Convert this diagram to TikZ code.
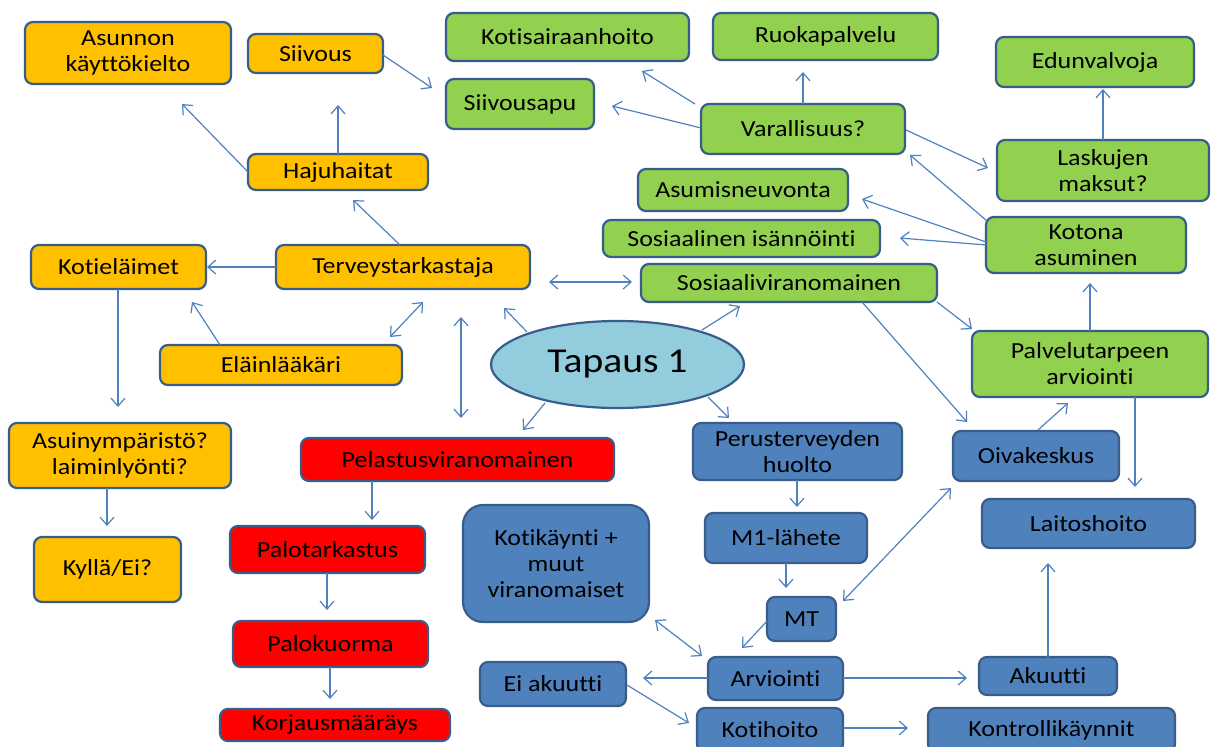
\documentclass[tikz,border=0pt]{standalone}
\usepackage{fontspec}
\setmainfont{Carlito}[FakeStretch=1.13,Ligatures=NoCommon]
\usetikzlibrary{arrows.meta,calc,shapes.geometric}
\definecolor{bord}{HTML}{385D8A}
\definecolor{arr}{HTML}{4F81BD}
\definecolor{cOr}{HTML}{FFC000}
\definecolor{cGr}{HTML}{92D050}
\definecolor{cRd}{HTML}{FF0000}
\definecolor{cBl}{HTML}{4F81BD}
\definecolor{cEl}{HTML}{93CDDD}
\newcommand\mybox[7]{\node[#1, minimum width={(#5)-(#3)}, minimum height={(#6)-(#4)}] (#2) at ({((#3)+(#5))/2},{((#4)+(#6))/2}) {#7};}
\tikzset{
 box/.style={draw=bord, line width=2.2pt, rounded corners=8pt, inner sep=0pt, outer sep=0pt, align=center, font=\fontsize{23}{26}\selectfont, text=black},
 ob/.style={box, fill=cOr}, gb/.style={box, fill=cGr}, rb/.style={box, fill=cRd}, bb/.style={box, fill=cBl},
 con/.style={draw=arr, line width=1.2pt, -{Straight Barb[length=8pt,width=14pt]}},
 dcon/.style={draw=arr, line width=1.2pt, {Straight Barb[length=8pt,width=14pt]}-{Straight Barb[length=8pt,width=14pt]}},
}
\begin{document}
\begin{tikzpicture}[x=1pt,y=-1pt]
\useasboundingbox (0,0) rectangle (1216,747);
\clip (0,0) rectangle (1216,747);
% orange
\mybox{ob}{ak}{25}{22}{231}{84}{Asunnon\\käyttökielto}
\mybox{ob}{siiv}{248}{34}{383}{73}{Siivous}
\mybox{ob}{haju}{248}{154}{428}{190}{Hajuhaitat}
\mybox{ob}{terv}{276}{245}{530}{289}{Terveystarkastaja}
\mybox{ob}{kotiel}{31}{245}{206}{289}{Kotieläimet}
\mybox{ob}{elain}{160}{345}{402}{385}{Eläinlääkäri}
\mybox{ob}{asuin}{9}{423}{231}{488}{Asuinympäristö?\\laiminlyönti?}
\mybox{ob}{kylla}{34}{537}{181}{602}{Kyllä/Ei?}
% green
\mybox{gb}{kotis}{446}{13}{689}{61}{Kotisairaanhoito}
\mybox{gb}{ruoka}{713}{13}{938}{60}{Ruokapalvelu}
\mybox{gb}{siivapu}{446}{79}{594}{129}{Siivousapu}
\mybox{gb}{vara}{701}{104}{905}{154}{Varallisuus?}
\mybox{gb}{asneuv}{638}{169}{848}{211}{Asumisneuvonta}
\mybox{gb}{edun}{996}{37}{1194}{87}{Edunvalvoja}
\mybox{gb}{lask}{997}{140}{1209}{201}{Laskujen\\maksut?}
\mybox{gb}{koto}{986}{217}{1186}{273}{Kotona\\asuminen}
\mybox{gb}{sosis}{603}{220}{880}{257}{Sosiaalinen isännöinti}
\mybox{gb}{sosv}{641}{264}{937}{302}{Sosiaaliviranomainen}
\mybox{gb}{palv}{972}{331}{1208}{397}{Palvelutarpeen\\arviointi}
% red
\mybox{rb}{pel}{301}{438}{614}{481}{Pelastusviranomainen}
\mybox{rb}{palot}{230}{526}{425}{573}{Palotarkastus}
\mybox{rb}{palok}{233}{621}{428}{667}{Palokuorma}
\mybox{rb}{korj}{220}{709}{450}{741}{Korjausmääräys}
% blue
\mybox{bb}{perus}{693}{423}{902}{480}{Perusterveyden\\huolto}
\mybox{bb}{oiva}{953}{431}{1119}{481}{Oivakeskus}
\mybox{bb}{lait}{982}{499}{1195}{548}{Laitoshoito}
\mybox{bb,rounded corners=20pt}{kotik}{463}{505}{649}{622}{Kotikäynti +\\muut\\viranomaiset}
\mybox{bb}{m1}{705}{513}{867}{563}{M1-lähete}
\mybox{bb}{mt}{767}{597}{836}{641}{MT}
\mybox{bb}{arv}{708}{657}{843}{700}{Arviointi}
\mybox{bb}{eiak}{480}{662}{626}{706}{Ei akuutti}
\mybox{bb}{kotih}{697}{708}{843}{752}{Kotihoito}
\mybox{bb}{akuu}{979}{657}{1117}{695}{Akuutti}
\mybox{bb}{kontr}{928}{708}{1175}{752}{Kontrollikäynnit}
% center
\node[ellipse, draw=bord, line width=2.2pt, fill=cEl, minimum width=253, minimum height=87, inner sep=0pt, outer sep=0pt, font=\fontsize{35}{40}\selectfont] (tap) at (617.5,364.5) {Tapaus 1};
% connectors
\draw[con] ($(siiv.north west)+(135,21)$) -- ($(siivapu.north west)+(-14,9)$);
\draw[con] ($(haju.north west)+(90,0)$) -- ($(siiv.north west)+(90,71)$);
\draw[con] ($(haju.north west)+(0,18)$) -- ($(ak.north west)+(157,82)$);
\draw[con] ($(terv.north west)+(124,0)$) -- ($(haju.north west)+(105,46)$);
\draw[con] ($(terv.north west)+(0,22)$) -- ($(kotiel.north west)+(176,22)$);
\draw[con] ($(elain.north west)+(60,0)$) -- ($(kotiel.north west)+(161,57)$);
\draw[dcon] ($(elain.north west)+(230,-8)$) -- ($(terv.north west)+(147,57)$);
\draw[con] ($(kotiel.north west)+(87,44)$) -- ($(asuin.north west)+(109,-16)$);
\draw[con] ($(asuin.north west)+(98,65)$) -- ($(kylla.north west)+(73,-11)$);
\draw[dcon] ($(terv.north west)+(273,37)$) -- ($(sosv.north west)+(-9,18)$);
\draw[con] ($(tap.center)+(-90.5,-32.5)$) -- ($(terv.north west)+(228,63)$);
\draw[con] ($(tap.center)+(84.5,-34.5)$) -- ($(sosv.north west)+(99,42)$);
\draw[dcon] ($(terv.north west)+(185,72)$) -- ($(pel.north west)+(160,-20)$);
\draw[con] ($(tap.center)+(-72.5,38.5)$) -- ($(pel.north west)+(222,-8)$);
\draw[con] ($(tap.center)+(90.5,32.5)$) -- ($(perus.north west)+(36,-5)$);
\draw[con] ($(sosv.north west)+(296,38)$) -- ($(palv.north west)+(0,-2)$);
\draw[con] ($(sosv.north west)+(221,38)$) -- ($(oiva.north west)+(14,-9)$);
\draw[con] ($(oiva.north west)+(85,-1)$) -- ($(palv.north west)+(96,72)$);
\draw[con] ($(palv.north west)+(163,66)$) -- ($(lait.north west)+(153,-12)$);
\draw[con] ($(palv.north west)+(118,0)$) -- ($(koto.north west)+(104,66)$);
\draw[con] ($(koto.north west)+(0,28)$) -- ($(sosis.north west)+(297,18)$);
\draw[con] ($(koto.north west)+(0,25)$) -- ($(asneuv.north west)+(224,30)$);
\draw[con] ($(koto.north west)+(1,4)$) -- ($(vara.north west)+(209,51)$);
\draw[con] ($(vara.north west)+(205,26)$) -- ($(lask.north west)+(-9,28)$);
\draw[con] ($(lask.north west)+(106,0)$) -- ($(edun.north west)+(107,52)$);
\draw[con] ($(vara.north west)+(102,0)$) -- ($(ruoka.north west)+(90,59)$);
\draw[con] ($(vara.north west)+(-6,0)$) -- ($(kotis.north west)+(196,58)$);
\draw[con] ($(vara.north west)+(0,24)$) -- ($(siivapu.north west)+(166,27)$);
\draw[con] ($(pel.north west)+(71,43)$) -- ($(palot.north west)+(142,-6)$);
\draw[con] ($(palot.north west)+(97,47)$) -- ($(palok.north west)+(94,-11)$);
\draw[con] ($(palok.north west)+(97,46)$) -- ($(korj.north west)+(110,-10)$);
\draw[con] ($(perus.north west)+(104,57)$) -- ($(m1.north west)+(92,-6)$);
\draw[con] ($(m1.north west)+(81,50)$) -- ($(mt.north west)+(19,-9)$);
\draw[con] ($(mt.north west)+(0,24)$) -- ($(arv.north west)+(34,-9)$);
\draw[dcon] ($(mt.north west)+(76,4)$) -- ($(oiva.north west)+(-2,57)$);
\draw[dcon] ($(kotik.north west)+(192,115)$) -- ($(arv.north west)+(-6,-1)$);
\draw[con] ($(arv.north west)+(0,21)$) -- ($(eiak.north west)+(163,16)$);
\draw[con] ($(eiak.north west)+(147,23)$) -- ($(kotih.north west)+(-8,15)$);
\draw[con] ($(arv.north west)+(135,21)$) -- ($(akuu.north west)+(-12,21)$);
\draw[con] ($(kotih.north west)+(146,20)$) -- ($(kontr.north west)+(-20,20)$);
\draw[con] ($(akuu.north west)+(69,0)$) -- ($(lait.north west)+(66,64)$);
\end{tikzpicture}
\end{document}
